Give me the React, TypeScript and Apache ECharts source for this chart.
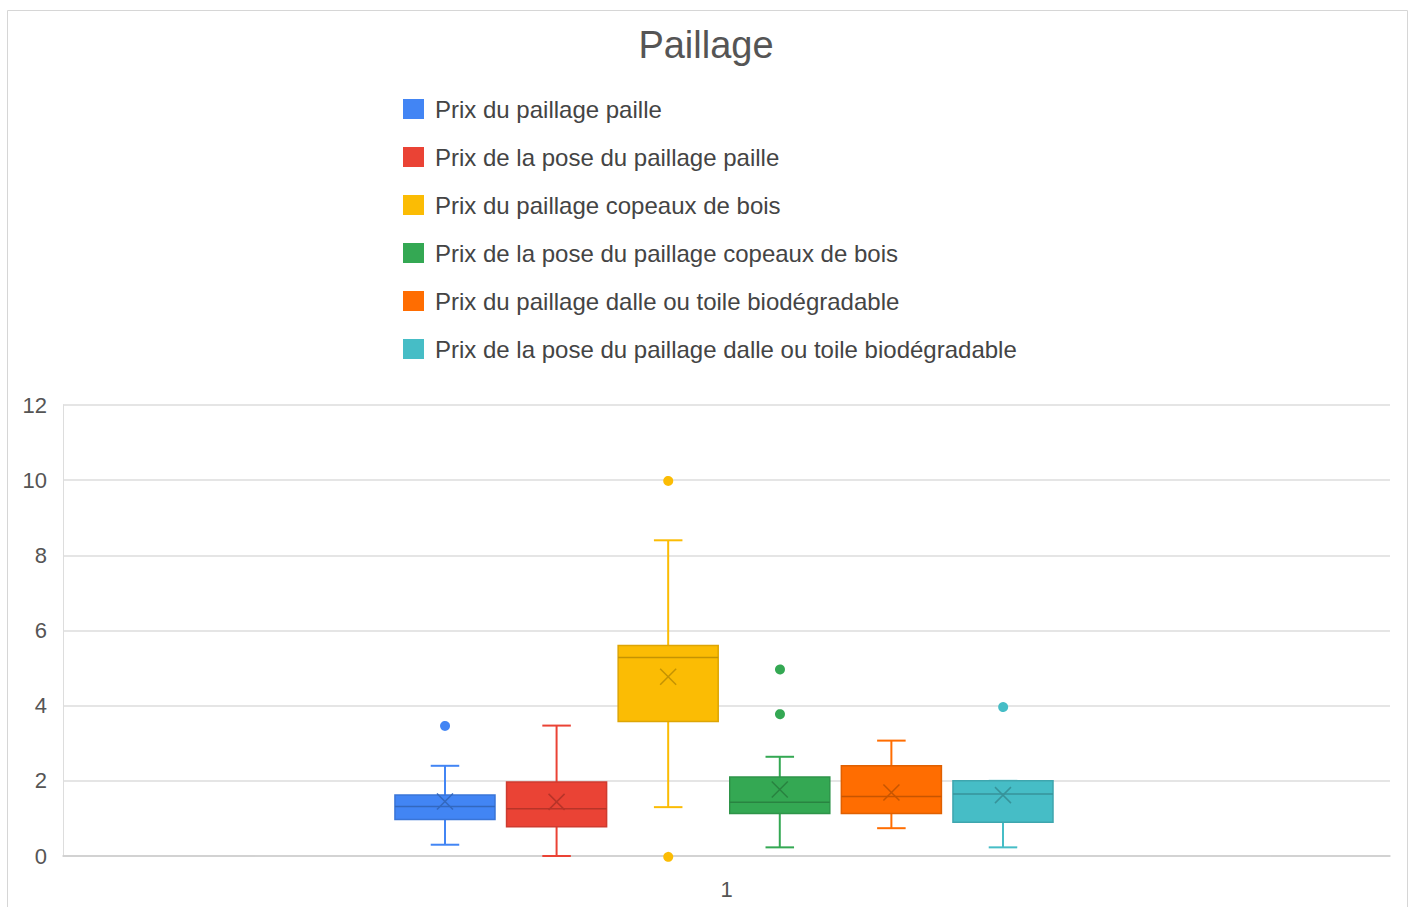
import { useEffect, useRef } from "react";
import * as echarts from "echarts";

const categories = ["1"];
const seriesNames = [
  "Prix du paillage paille",
  "Prix de la pose du paillage paille",
  "Prix du paillage copeaux de bois",
  "Prix de la pose du paillage copeaux de bois",
  "Prix du paillage dalle ou toile biodégradable",
  "Prix de la pose du paillage dalle ou toile biodégradable",
];
const colors = ["#4285F4", "#EA4335", "#FBBC04", "#34A853", "#FF6D01", "#46BDC6"];
const mins = [0.3, 0, 1.3, 0.23, 0.74, 0.23];
const q1s = [0.97, 0.78, 3.58, 1.13, 1.13, 0.9];
const medians = [1.32, 1.26, 5.28, 1.43, 1.58, 1.65];
const q3s = [1.62, 1.97, 5.6, 2.1, 2.4, 2.0];
const maxs = [2.4, 3.47, 8.4, 2.64, 3.07, 2.0];
const means = [1.45, 1.44, 4.77, 1.77, 1.69, 1.62];
const outliers = [[3.48], [], [10, 0], [5, 3.81], [], [4]];

function darken(hex: string, f: number) {
  const n = parseInt(hex.slice(1), 16);
  const r = Math.round(((n >> 16) & 255) * (1 - f));
  const g = Math.round(((n >> 8) & 255) * (1 - f));
  const b = Math.round((n & 255) * (1 - f));
  return `rgb(${r},${g},${b})`;
}

const SPACING = 0.0841;
const SHIFT = -0.0019;
const BOX_W = 0.0754;
const CAP_W = 0.0215;

export default function App() {
  const ref = useRef<HTMLDivElement>(null);
  useEffect(() => {
    const chart = echarts.init(ref.current!, null, { renderer: "svg" });
    const font = "'Liberation Sans', Arial, sans-serif";
    const series = seriesNames.map((name, i) => ({
      name,
      type: "custom",
      itemStyle: { color: colors[i] },
      data: [[0, mins[i], q1s[i], medians[i], q3s[i], maxs[i], means[i]]],
      encode: { x: 0, y: [1, 2, 3, 4, 5] },
      renderItem: (params: any, api: any) => {
        const si = params.seriesIndex;
        const cat = api.value(0);
        const band = api.size([1, 0])[0];
        const cx = api.coord([cat, 0])[0] + ((si - 2.5) * SPACING + SHIFT) * band;
        const bw = band * BOX_W;
        const cw = band * CAP_W;
        const y = (v: number) => api.coord([cat, v])[1];
        const yMin = y(api.value(1));
        const yQ1 = y(api.value(2));
        const yMed = y(api.value(3));
        const yQ3 = y(api.value(4));
        const yMax = y(api.value(5));
        const yMean = y(api.value(6));
        const c = colors[si];
        const dk = darken(c, 0.12);
        const dk2 = darken(c, 0.22);
        const ls = { stroke: c, lineWidth: 2 };
        const children: any[] = [
          { type: "line", shape: { x1: cx, y1: yQ1, x2: cx, y2: yMin }, style: ls },
          { type: "line", shape: { x1: cx - cw / 2, y1: yMin, x2: cx + cw / 2, y2: yMin }, style: ls },
          { type: "line", shape: { x1: cx, y1: yQ3, x2: cx, y2: yMax }, style: ls },
          { type: "line", shape: { x1: cx - cw / 2, y1: yMax, x2: cx + cw / 2, y2: yMax }, style: ls },
          {
            type: "rect",
            shape: { x: cx - bw / 2, y: yQ3, width: bw, height: yQ1 - yQ3 },
            style: { fill: c, stroke: dk, lineWidth: 1.5 },
          },
          { type: "line", shape: { x1: cx - bw / 2, y1: yMed, x2: cx + bw / 2, y2: yMed }, style: { stroke: dk2, lineWidth: 1.5 } },
          { type: "line", shape: { x1: cx - 8, y1: yMean - 8, x2: cx + 8, y2: yMean + 8 }, style: { stroke: dk2, lineWidth: 1.5 } },
          { type: "line", shape: { x1: cx - 8, y1: yMean + 8, x2: cx + 8, y2: yMean - 8 }, style: { stroke: dk2, lineWidth: 1.5 } },
        ];
        outliers[si].forEach((v) => {
          children.push({ type: "circle", shape: { cx, cy: y(v), r: 5 }, style: { fill: c } });
        });
        return { type: "group", children };
      },
    }));

    chart.setOption({
      animation: false,
      color: colors,
      backgroundColor: "#ffffff",
      title: {
        text: "Paillage",
        left: 701,
        textAlign: "center",
        top: 21,
        textStyle: { fontFamily: font, fontSize: 38, fontWeight: "normal", color: "#555555" },
      },
      legend: {
        orient: "vertical",
        left: 398,
        top: 92,
        icon: "rect",
        itemWidth: 21,
        itemHeight: 20,
        itemGap: 24,
        textStyle: { fontFamily: font, fontSize: 24, color: "#444444", lineHeight: 20, padding: [0, 0, 0, 6] },
        data: seriesNames,
      },
      graphic: [
        {
          type: "rect",
          silent: true,
          z: -10,
          shape: { x: 7.5, y: 10.5, width: 1400, height: 910 },
          style: { fill: "none", stroke: "#d6d6d6", lineWidth: 1 },
        },
      ],
      grid: { left: 63, right: 24, top: 405, bottom: 51 },
      xAxis: {
        type: "category",
        data: categories,
        axisLine: { lineStyle: { color: "#cccccc", width: 1.5 } },
        axisTick: { show: false },
        axisLabel: { fontFamily: font, fontSize: 22, color: "#555555", margin: 22 },
      },
      yAxis: {
        type: "value",
        min: 0,
        max: 12,
        interval: 2,
        axisLine: { show: true, lineStyle: { color: "#dddddd" } },
        axisTick: { show: false },
        splitLine: { lineStyle: { color: "#dddddd", width: 1.5 } },
        axisLabel: { fontFamily: font, fontSize: 22, color: "#555555", margin: 16 },
      },
      series,
    });
    return () => chart.dispose();
  }, []);
  return <div ref={ref} style={{ position: "fixed", left: 0, top: 0, width: 1414, height: 907 }} />;
}
